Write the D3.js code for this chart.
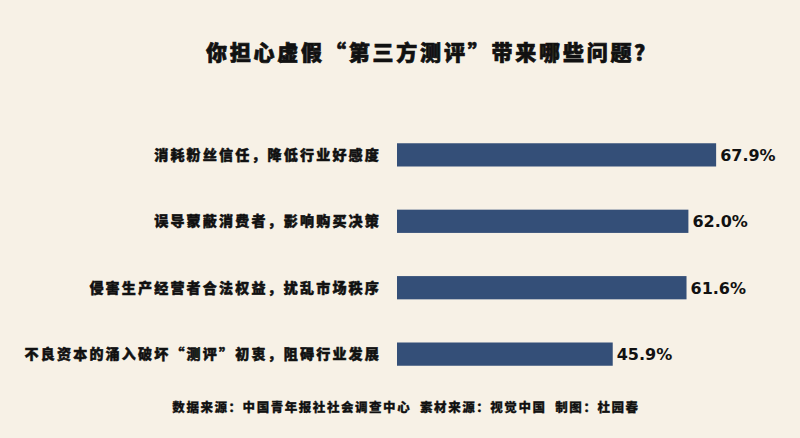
<!DOCTYPE html>
<html>
<head>
<meta charset="utf-8">
<script src="https://cdn.jsdelivr.net/npm/d3@7"></script>
<style>
  html, body { margin: 0; padding: 0; background: #f7f1e6; }
  svg { display: block; }
</style>
</head>
<body>
<div id="chart"></div>
<script>
// data
var categories = [
    "消耗粉丝信任，降低行业好感度",
    "误导蒙蔽消费者，影响购买决策",
    "侵害生产经营者合法权益，扰乱市场秩序",
    "不良资本的涌入破坏“测评”初衷，阻碍行业发展"
];
var values = [67.9, 62.0, 61.6, 45.9];
var title = "你担心虚假“第三方测评”带来哪些问题？";
var source = "数据来源：中国青年报社社会调查中心  素材来源：视觉中国  制图：杜园春";

function init() {
    var w = 800;
    var h = 438;
    var cjk = "'Noto Sans CJK SC', 'Noto Sans', sans-serif";

    var svg = d3.select("#chart")
        .append("svg")
        .attr("width", w)
        .attr("height", h);

    svg.append("rect")
        .attr("width", w)
        .attr("height", h)
        .attr("fill", "#f7f1e6");

    var x = d3.scaleLinear()
        .domain([0, 100])
        .range([397, 397 + 470]);

    var y = d3.scaleBand()
        .domain(categories)
        .range([122, 387])
        .paddingInner(0.65)
        .paddingOuter(0.32);

    var rows = svg.selectAll("g.row")
        .data(categories)
        .enter()
        .append("g")
        .attr("class", "row");

    rows.append("rect")
        .attr("x", x(0))
        .attr("y", function (d) { return y(d); })
        .attr("width", function (d, i) { return x(values[i]) - x(0); })
        .attr("height", y.bandwidth())
        .attr("fill", "#344f78");

    // category labels, stroked a little to look heavier
    rows.append("text")
        .attr("x", 381)
        .attr("y", function (d) { return y(d) + y.bandwidth() / 2; })
        .attr("dy", "0.36em")
        .attr("text-anchor", "end")
        .style("font-family", cjk)
        .style("font-weight", 900)
        .style("font-size", "14px")
        .style("letter-spacing", "2.2px")
        .attr("fill", "#111")
        .attr("stroke", "#111")
        .attr("stroke-width", 0.5)
        .text(function (d) { return d; });

    rows.append("text")
        .attr("x", function (d, i) { return x(values[i]) + 4; })
        .attr("y", function (d) { return y(d) + y.bandwidth() / 2; })
        .attr("dy", "0.38em")
        .style("font-family", "'DejaVu Sans', sans-serif")
        .style("font-weight", 700)
        .style("font-size", "16px")
        .attr("fill", "#111")
        .text(function (d, i) { return values[i].toFixed(1) + "%"; });

    svg.append("text")
        .attr("x", 432)
        .attr("y", 60)
        .attr("text-anchor", "middle")
        .style("font-family", cjk)
        .style("font-weight", 900)
        .style("font-size", "21px")
        .style("letter-spacing", "2.8px")
        .attr("fill", "#111")
        .attr("stroke", "#111")
        .attr("stroke-width", 0.7)
        .text(title);

    svg.append("text")
        .attr("x", 406)
        .attr("y", 412)
        .attr("text-anchor", "middle")
        .style("font-family", cjk)
        .style("font-weight", 900)
        .style("font-size", "12.5px")
        .style("letter-spacing", "1.55px")
        .style("white-space", "pre")
        .attr("fill", "#111")
        .attr("stroke", "#111")
        .attr("stroke-width", 0.3)
        .text(source);
}

window.onload = init;
</script>
</body>
</html>
